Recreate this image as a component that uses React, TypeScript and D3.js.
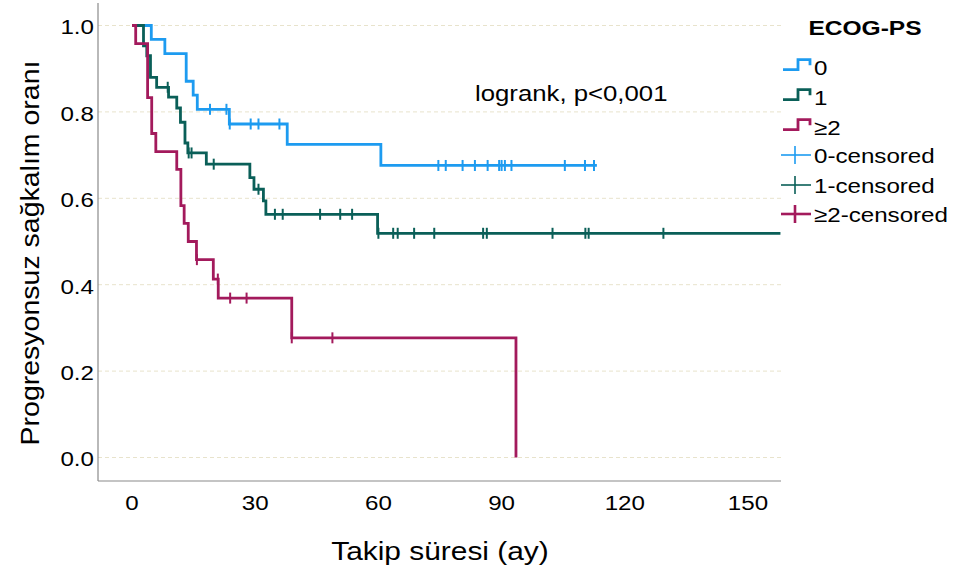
import React from "react";
import * as d3 from "d3";

// ---------- data ----------
const groups = ["0", "1", "≥2"];
const colors = ["#1d9bf0", "#0a5f58", "#a31a5c"];

// ECOG 0
const e0Times = [4.7, 8.0, 13.2, 14.9, 15.9, 23.7, 37.8, 60.6];
const e0Surv = [0.968, 0.935, 0.871, 0.839, 0.806, 0.772, 0.725, 0.676];
const e0Censor = [19.0, 23.0, 23.8, 28.9, 30.8, 35.9, 74.6, 76.4, 80.5, 83.5, 86.6, 89.4, 90.0, 90.8, 92.4, 105.4, 110.3, 112.5];
const e0End = 113.2;

// ECOG 1
const e1Times = [2.8, 3.6, 4.5, 6.0, 8.9, 10.9, 11.8, 12.9, 13.6, 18.1, 28.7, 29.7, 32.0, 32.6, 59.8];
const e1Surv = [0.953, 0.93, 0.88, 0.857, 0.834, 0.809, 0.776, 0.728, 0.705, 0.679, 0.648, 0.621, 0.594, 0.563, 0.519];
const e1Censor = [8.7, 13.8, 14.5, 19.9, 30.8, 34.8, 36.7, 45.8, 50.7, 53.6, 60.0, 63.6, 64.7, 68.7, 73.6, 85.5, 86.4, 102.4, 110.4, 111.2, 129.4];
const e1End = 157.9;

// ECOG >=2
const e2Times = [0.9, 3.8, 4.8, 5.8, 10.9, 11.9, 12.7, 13.7, 15.7, 19.8, 21.0, 38.9, 93.5];
const e2Surv = [0.958, 0.833, 0.75, 0.708, 0.667, 0.583, 0.542, 0.5, 0.458, 0.413, 0.369, 0.277, 0.0];
const e2Censor = [15.8, 20.9, 23.9, 27.9, 38.9, 48.8];
const e2End = 93.5;

const xTicks = [0, 30, 60, 90, 120, 150];
const yTicks = [0, 0.2, 0.4, 0.6, 0.8, 1.0];

const legendTitle = "ECOG-PS";
const legendLabels = ["0", "1", "≥2", "0-censored", "1-censored", "≥2-censored"];
const annotation = "logrank, p<0,001";
const xTitle = "Takip süresi (ay)";
const yTitle = "Progresyonsuz sağkalım oranı";

const series = [
  { times: e0Times, surv: e0Surv, censor: e0Censor, end: e0End },
  { times: e1Times, surv: e1Surv, censor: e1Censor, end: e1End },
  { times: e2Times, surv: e2Surv, censor: e2Censor, end: e2End },
];

const FONT = "'Liberation Sans', Arial, sans-serif";

function stepPoints(times: number[], surv: number[], end: number): [number, number][] {
  const pts: [number, number][] = [[0, 1]];
  let s = 1;
  times.forEach((t, i) => {
    pts.push([t, s]);
    s = surv[i];
    pts.push([t, s]);
  });
  if (end > times[times.length - 1]) pts.push([end, s]);
  return pts;
}

function survAt(times: number[], surv: number[], t: number) {
  let s = 1;
  for (let i = 0; i < times.length; i++) {
    if (times[i] <= t) s = surv[i];
  }
  return s;
}

type TP = { x: number; y: number; size: number; anchor?: string; weight?: string; children: string; rotate?: boolean; sx?: number };
const T = (props: TP) => (
  <g transform={`translate(${props.x},${props.y}) ${props.rotate ? "rotate(-90)" : ""} scale(${props.sx ?? 1.15},1)`}>
    <text
      x={0}
      y={0}
      fontFamily={FONT}
      fontSize={props.size}
      fontWeight={props.weight || "normal"}
      textAnchor={props.anchor || "start"}
      dominantBaseline="central"
      fill="#000"
    >
      {props.children}
    </text>
  </g>
);

export default function App() {
  const W = 953;
  const H = 575;
  const x = d3.scaleLinear().domain([0, 150]).range([132, 748]);
  const y = d3.scaleLinear().domain([0, 1]).range([457.5, 25.5]);
  const axisLeft = 98;
  const axisBottom = 481;
  const axisRight = 781;
  const axisTop = 3;
  const line = d3
    .line<[number, number]>()
    .x((d) => x(d[0]))
    .y((d) => y(d[1]))
    .curve(d3.curveLinear);

  const legendRowY = [66.7, 96.7, 126.7, 155, 185, 214];
  const iconX0 = 783;

  return (
    <svg width={W} height={H} style={{ position: "absolute", left: 0, top: 0, background: "#fff" }}>
      <rect x={0} y={0} width={W} height={H} fill="#fff" />
      {/* grid */}
      {yTicks.map((v) => (
        <line
          key={"g" + v}
          x1={axisLeft}
          x2={axisRight}
          y1={y(v)}
          y2={y(v)}
          stroke="#e8e3cc"
          strokeWidth={1}
          strokeDasharray="4,3"
        />
      ))}
      {/* axes */}
      <line x1={axisLeft} x2={axisLeft} y1={axisTop} y2={axisBottom} stroke="#8a8a8a" strokeWidth={1.2} />
      <line x1={axisLeft} x2={axisRight} y1={axisBottom} y2={axisBottom} stroke="#8a8a8a" strokeWidth={1.2} />
      {yTicks.map((v) => (
        <T key={"yt" + v} x={94} y={y(v) + 2} size={21} anchor="end">
          {v.toFixed(1)}
        </T>
      ))}
      {xTicks.map((v) => (
        <T key={"xt" + v} x={x(v)} y={503} size={21} anchor="middle">
          {String(v)}
        </T>
      ))}
      <T x={440} y={551} size={26} anchor="middle" sx={1.15}>
        {xTitle}
      </T>
      <T x={31} y={253} size={25} anchor="middle" rotate sx={1.14}>
        {yTitle}
      </T>
      {/* curves */}
      {series.map((s, i) => (
        <g key={"s" + i}>
          <path d={line(stepPoints(s.times, s.surv, s.end)) || ""} fill="none" stroke={colors[i]} strokeWidth={2.8} />
          {s.censor.map((c, j) => {
            const cy = y(survAt(s.times, s.surv, c));
            return (
              <line key={j} x1={x(c)} x2={x(c)} y1={cy - 5.5} y2={cy + 5.5} stroke={colors[i]} strokeWidth={2} />
            );
          })}
        </g>
      ))}
      {/* annotation */}
      <T x={475} y={93} size={22} anchor="start" sx={1.17}>
        {annotation}
      </T>
      {/* legend */}
      <T x={865} y={28} size={21} anchor="middle" weight="bold" sx={1.17}>
        {legendTitle}
      </T>
      {groups.map((g, i) => {
        const cy = legendRowY[i];
        const d = `M${iconX0},${cy + 3} H${iconX0 + 15} V${cy - 7} H${iconX0 + 27} V${cy - 1.5}`;
        return <path key={"li" + i} d={d} fill="none" stroke={colors[i]} strokeWidth={2.8} />;
      })}
      {groups.map((g, i) => {
        const cy = legendRowY[i + 3];
        return (
          <g key={"lc" + i}>
            <line x1={iconX0 - 2} x2={iconX0 + 28} y1={cy} y2={cy} stroke={colors[i]} strokeWidth={i === 2 ? 2.6 : 1.6} />
            <line x1={iconX0 + 12} x2={iconX0 + 12} y1={cy - 9} y2={cy + 9} stroke={colors[i]} strokeWidth={i === 2 ? 2.6 : 1.6} />
          </g>
        );
      })}
      {legendLabels.map((l, i) => (
        <T key={"ll" + i} x={814} y={legendRowY[i] + 1} size={21} anchor="start">
          {l}
        </T>
      ))}
    </svg>
  );
}
